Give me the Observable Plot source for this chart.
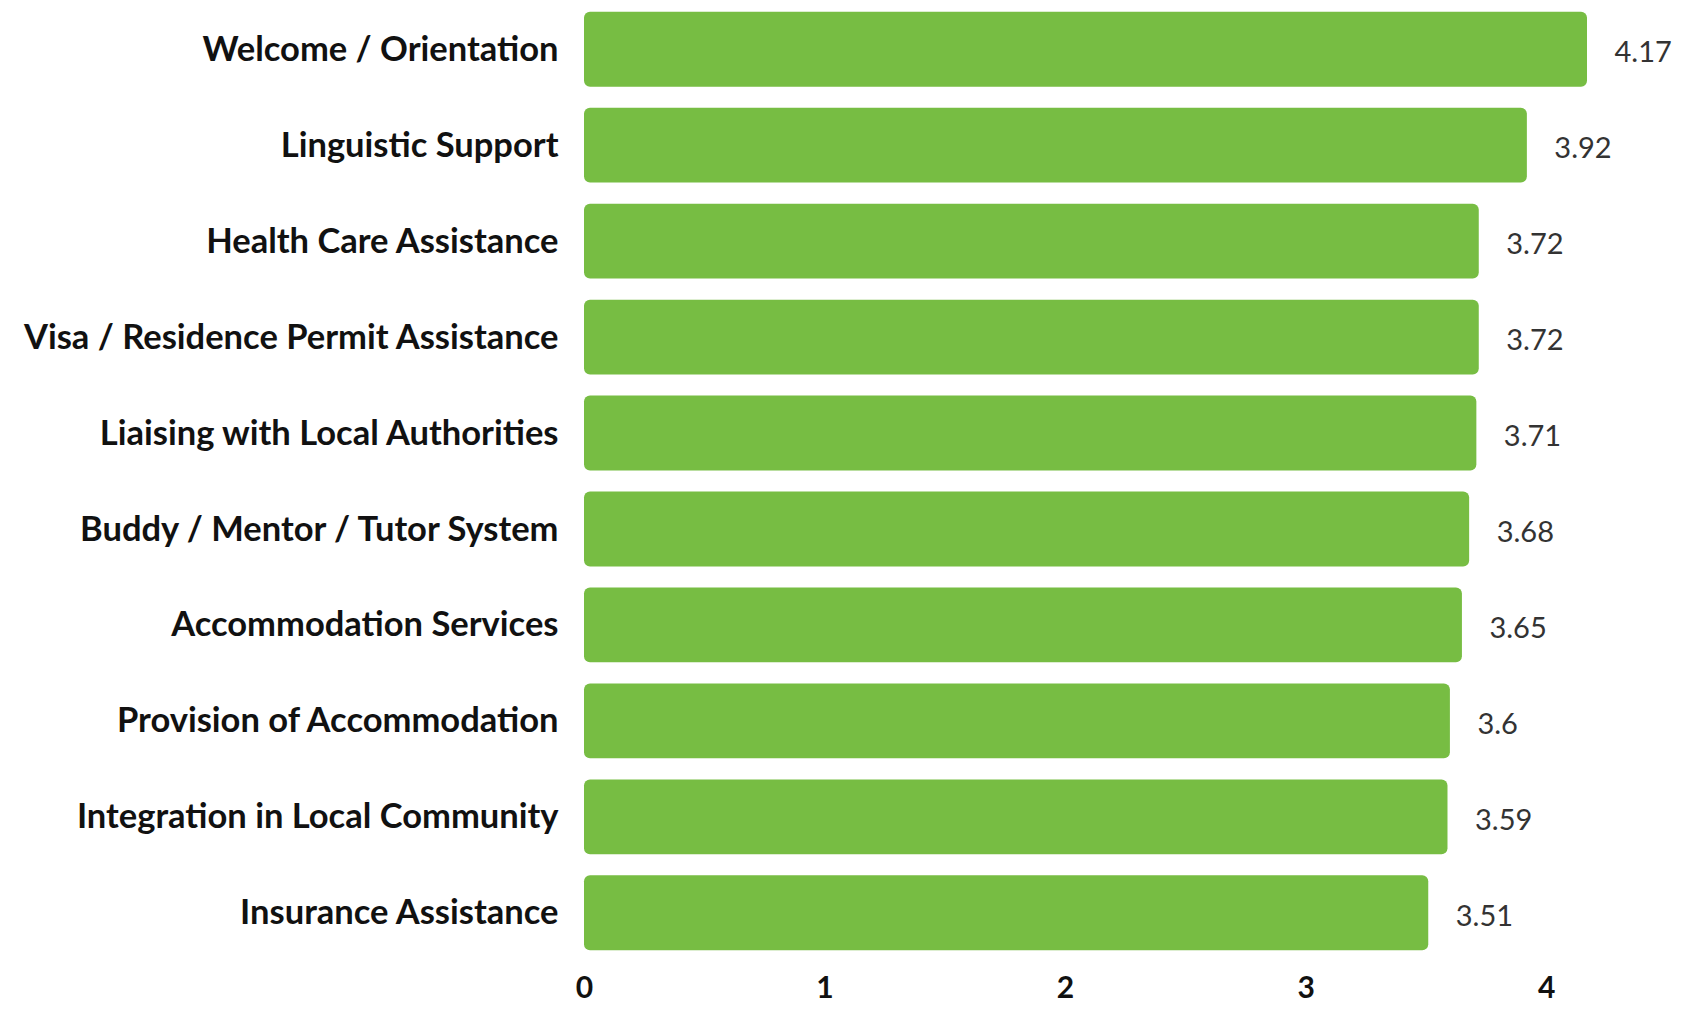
<!DOCTYPE html>
<html>
<head>
<meta charset="utf-8">
<script src="https://cdn.jsdelivr.net/npm/d3@7"></script>
<script src="https://cdn.jsdelivr.net/npm/@observablehq/plot@0.6"></script>
<style>
  html, body { margin: 0; padding: 0; background: #fff; }
  #chart svg { display: block; }
</style>
</head>
<body>
<div id="chart"></div>
<script>
const categories = [
  "Welcome / Orientation",
  "Linguistic Support",
  "Health Care Assistance",
  "Visa / Residence Permit Assistance",
  "Liaising with Local Authorities",
  "Buddy / Mentor / Tutor System",
  "Accommodation Services",
  "Provision of Accommodation",
  "Integration in Local Community",
  "Insurance Assistance"
];
const values = [4.17, 3.92, 3.72, 3.72, 3.71, 3.68, 3.65, 3.6, 3.59, 3.51];
const xTicks = [0, 1, 2, 3, 4];

const data = categories.map((c, i) => ({category: c, value: values[i]}));

const chart = Plot.plot({
  width: 1682,
  height: 1012,
  marginLeft: 584,
  marginRight: 95,
  marginTop: 7,
  marginBottom: 57,
  style: {fontFamily: "Lato, 'Open Sans', sans-serif", background: "#fff", color: "#111"},
  x: {domain: [0, 4.17], axis: null},
  y: {domain: categories, paddingInner: 0.22, paddingOuter: 0.05, round: false, axis: null},
  marks: [
    Plot.barX(data, {x: "value", y: "category", fill: "#77bd43", rx: 6}),
    Plot.text(data, {x: "value", y: "category", text: d => String(d.value), textAnchor: "start", dx: 27, dy: 3, fontSize: 29, fill: "#333"}),
    Plot.axisY({tickSize: 0, tickPadding: 26, fontSize: 34.5, fontWeight: "bold", fill: "#111", label: null}),
    Plot.axisX({ticks: xTicks, tickSize: 0, tickPadding: 21, fontSize: 30, fontWeight: "bold", fill: "#111", label: null, tickFormat: d => String(d)})
  ]
});
document.getElementById("chart").appendChild(chart);
</script>
</body>
</html>
